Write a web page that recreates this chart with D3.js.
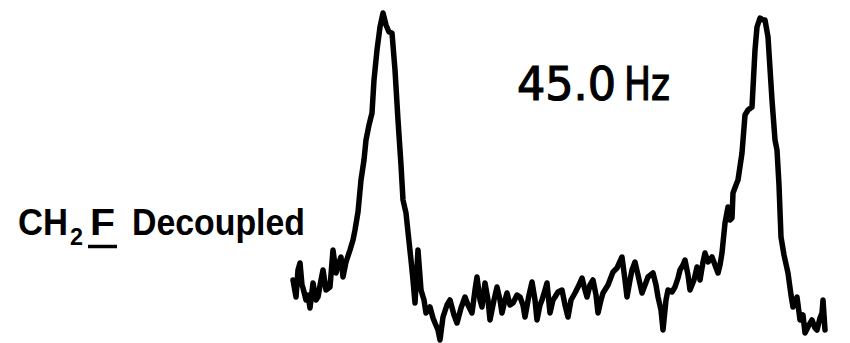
<!DOCTYPE html>
<html>
<head>
<meta charset="utf-8">
<script src="https://cdn.jsdelivr.net/npm/d3@7"></script>
<style>
  body { margin: 0; background: #fff; }
  svg { display: block; }
</style>
</head>
<body>
<div id="chart"></div>
<script>
// trace: position along sweep, pen height
const position = [293,296,298,300,302,303,306,308,310,313,316,318,321,323,326,330,333,336,338,341,343,346,350,353,355,358,361,364,366,369,372,374,377,380,383,386,389,392,395,398,401,403,406,408,411,413,415,418,421,424,426,430,433,435,438,440,443,447,450,454,457,461,465,468,472,475,477,480,482,485,488,490,494,497,500,502,505,507,510,513,517,520,523,525,529,532,535,537,540,542,545,547,550,553,555,558,562,565,568,571,575,579,582,585,587,590,593,596,598,601,603,608,613,617,622,625,627,630,632,635,638,642,645,648,653,656,658,661,663,666,668,672,675,678,680,683,685,688,690,694,697,700,703,705,708,712,715,718,720,722,725,728,730,732,733,736,738,742,745,748,752,755,757,760,763,765,768,772,775,777,779,781,784,788,791,793,797,800,803,805,809,812,815,817,820,822,823,825];
const penY = [280,297,270,263,285,288,300,295,308,283,300,297,280,270,290,287,250,273,265,257,277,262,250,240,230,212,180,160,140,125,113,80,50,27,13,25,32,33,70,120,165,200,213,232,260,280,303,250,290,300,313,307,318,323,330,340,317,305,300,315,323,308,297,305,313,290,277,300,307,283,300,320,300,287,300,313,300,293,305,303,295,297,305,317,295,282,300,320,305,300,290,283,313,300,297,292,290,305,317,300,293,285,278,290,297,285,280,295,313,300,293,285,272,268,257,280,297,280,270,262,275,293,285,277,273,285,297,310,330,300,290,292,287,278,270,265,260,275,290,280,267,280,262,253,262,257,265,273,265,253,223,207,220,218,193,185,180,153,115,110,107,50,27,18,20,20,37,100,140,150,185,237,255,273,295,307,297,320,315,333,325,320,328,330,318,313,300,330];
const intensity = penY.map(v => 343 - v);

const labelValue = '45.0';
const labelUnit = 'Hz';
const labelNucleus = ['CH', '2', 'F', 'Decoupled'];

const width = 850, height = 343;

const svg = d3.select('#chart')
  .append('svg')
  .attr('width', width)
  .attr('height', height);

const x = d3.scaleLinear().domain([293, 825]).range([293, 825]);
const y = d3.scaleLinear().domain([0, 343]).range([343, 0]);

const pts = position.map((p, i) => [p, intensity[i]]);

const line = d3.line()
  .x(d => x(d[0]))
  .y(d => y(d[1]));

svg.append('path')
  .datum(pts)
  .attr('d', line)
  .attr('fill', 'none')
  .attr('stroke', '#000')
  .attr('stroke-width', 5.5)
  .attr('stroke-linejoin', 'round')
  .attr('stroke-linecap', 'round');

// coupling label
const hz = svg.append('g')
  .style('font-family', '"DejaVu Sans", sans-serif')
  .style('font-size', '46px')
  .style('fill', '#000')
  .style('stroke', '#000')
  .style('stroke-width', 1.2);

hz.append('text')
  .attr('x', 517).attr('y', 100)
  .attr('textLength', 99).attr('lengthAdjust', 'spacingAndGlyphs')
  .text(labelValue);
hz.append('text')
  .attr('x', 624).attr('y', 100)
  .attr('textLength', 46).attr('lengthAdjust', 'spacingAndGlyphs')
  .text(labelUnit);

// sample label
const lab = svg.append('g')
  .style('font-family', '"Liberation Sans", Arial, sans-serif')
  .style('font-weight', 'bold')
  .style('fill', '#000');

lab.append('text').attr('x', 18).attr('y', 235)
  .attr('textLength', 50).attr('lengthAdjust', 'spacingAndGlyphs')
  .style('font-size', '37px').text(labelNucleus[0]);
lab.append('text').attr('x', 70).attr('y', 245)
  .attr('textLength', 13).attr('lengthAdjust', 'spacingAndGlyphs')
  .style('font-size', '24px').text(labelNucleus[1]);
lab.append('text').attr('x', 90).attr('y', 235)
  .attr('textLength', 25).attr('lengthAdjust', 'spacingAndGlyphs')
  .style('font-size', '37px').text(labelNucleus[2]);
lab.append('text').attr('x', 132).attr('y', 235)
  .attr('textLength', 173).attr('lengthAdjust', 'spacingAndGlyphs')
  .style('font-size', '37px').text(labelNucleus[3]);

// underline under F
svg.append('line')
  .attr('x1', 88).attr('x2', 117)
  .attr('y1', 246.5).attr('y2', 246.5)
  .attr('stroke', '#000')
  .attr('stroke-width', 3.5);
</script>
</body>
</html>
